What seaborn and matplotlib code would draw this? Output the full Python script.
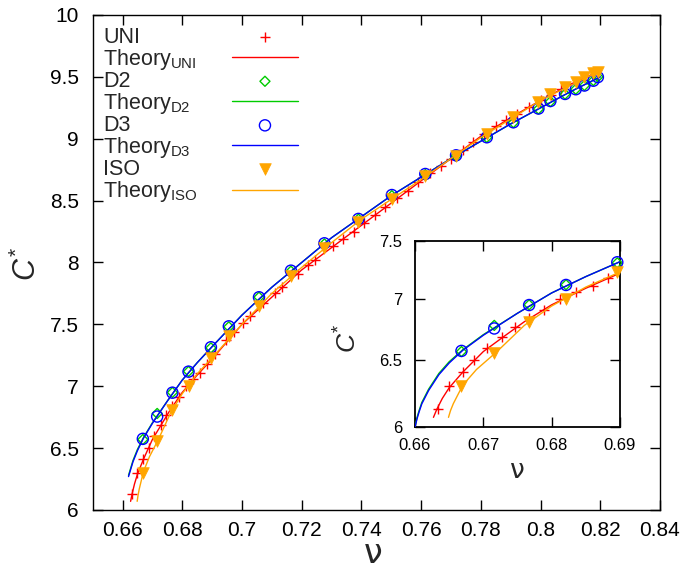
import numpy as np
import pandas as pd
import matplotlib
matplotlib.use("Agg")
import matplotlib.pyplot as plt
import seaborn as sns

# ---------------- data ----------------
nu_uni = [0.6633, 0.6650, 0.6670, 0.6687, 0.6706, 0.6728, 0.6747, 0.6767, 0.6789, 0.6812,
          0.6836, 0.6860, 0.6882, 0.6911, 0.6945, 0.6972, 0.7002, 0.7028, 0.7072, 0.7112,
          0.7135, 0.7186, 0.7222, 0.7246, 0.7306, 0.7339, 0.7375, 0.7410, 0.7445, 0.7480,
          0.7520, 0.7555, 0.7590, 0.7630, 0.7665, 0.7700, 0.7740, 0.7775, 0.7810, 0.7850,
          0.7885, 0.7920, 0.7960, 0.8000, 0.8035, 0.8070]
c_uni = [6.13, 6.30, 6.41, 6.50, 6.60, 6.69, 6.77, 6.84, 6.91, 7.00,
         7.06, 7.11, 7.18, 7.26, 7.37, 7.44, 7.51, 7.57, 7.67, 7.75,
         7.80, 7.91, 7.98, 8.02, 8.13, 8.19, 8.25, 8.32, 8.38, 8.45,
         8.52, 8.58, 8.65, 8.72, 8.78, 8.84, 8.91, 8.97, 9.04, 9.10,
         9.15, 9.20, 9.26, 9.31, 9.35, 9.40]

nu_sim = [0.6668, 0.6716, 0.6767, 0.6821, 0.6896, 0.6956, 0.7057, 0.7164, 0.7276, 0.7390,
          0.7502, 0.7614, 0.7717, 0.7820, 0.7909, 0.7993, 0.8033, 0.8082, 0.8118, 0.8147,
          0.8177, 0.8192]
c_d2 = [6.57, 6.78, 6.95, 7.12, 7.31, 7.48, 7.72, 7.93, 8.15, 8.35,
        8.54, 8.71, 8.86, 9.01, 9.13, 9.24, 9.30, 9.36, 9.40, 9.43,
        9.47, 9.50]
c_d3 = [6.575, 6.755, 6.948, 7.118, 7.315, 7.484, 7.719, 7.934, 8.155, 8.352,
        8.545, 8.715, 8.866, 9.012, 9.133, 9.244, 9.305, 9.362, 9.400, 9.430,
        9.469, 9.498]
c_iso = [6.30, 6.555, 6.811, 6.998, 7.226, 7.408, 7.646, 7.893, 8.115, 8.33,
         8.51, 8.70, 8.86, 9.035, 9.173, 9.295, 9.362, 9.416, 9.461, 9.497,
         9.529, 9.542]

th_uni_nu = [0.6627, 0.6632, 0.6640, 0.6650, 0.6670, 0.6700, 0.6730, 0.6760, 0.6800, 0.6850,
             0.6900, 0.7000, 0.7100, 0.7200, 0.7300, 0.7400, 0.7500, 0.7600, 0.7700, 0.7800,
             0.7900, 0.8000, 0.8100, 0.8200]
th_uni_c = [6.07, 6.13, 6.21, 6.29, 6.41, 6.57, 6.69, 6.81, 6.95, 7.09,
            7.22, 7.50, 7.72, 7.94, 8.12, 8.30, 8.48, 8.66, 8.84, 9.02,
            9.17, 9.31, 9.44, 9.55]

th_d_nu = [0.6600, 0.6603, 0.6606, 0.6610, 0.6620, 0.6635, 0.6650, 0.6670, 0.6700, 0.6750,
           0.6800, 0.6850, 0.6900, 0.7000, 0.7100, 0.7200, 0.7300, 0.7400, 0.7500, 0.7600,
           0.7700, 0.7800, 0.7900, 0.8000, 0.8100, 0.8200]
th_d2_c = [6.00, 6.07, 6.12, 6.18, 6.28, 6.40, 6.49, 6.585, 6.705, 6.88,
           7.05, 7.19, 7.32, 7.575, 7.80, 8.00, 8.20, 8.37, 8.54, 8.69,
           8.84, 8.98, 9.12, 9.25, 9.38, 9.50]
th_d3_c = [6.00, 6.06, 6.11, 6.17, 6.27, 6.39, 6.48, 6.58, 6.70, 6.88,
           7.05, 7.19, 7.32, 7.575, 7.80, 8.00, 8.20, 8.37, 8.54, 8.69,
           8.84, 8.98, 9.12, 9.25, 9.38, 9.50]

th_iso_nu = [0.6649, 0.6652, 0.6656, 0.6662, 0.6670, 0.6690, 0.6720, 0.6760, 0.6800, 0.6850,
             0.6900, 0.7000, 0.7100, 0.7200, 0.7300, 0.7400, 0.7500, 0.7600, 0.7700, 0.7800,
             0.7900, 0.8000, 0.8100, 0.8200]
th_iso_c = [6.07, 6.12, 6.17, 6.23, 6.31, 6.43, 6.57, 6.78, 6.94, 7.10,
            7.23, 7.50, 7.75, 7.96, 8.16, 8.35, 8.51, 8.67, 8.84, 9.01,
            9.16, 9.31, 9.43, 9.55]

main_xticks = [0.66, 0.68, 0.70, 0.72, 0.74, 0.76, 0.78, 0.80, 0.82, 0.84]
main_xticklabels = ["0.66", "0.68", "0.7", "0.72", "0.74", "0.76", "0.78", "0.8", "0.82", "0.84"]
main_yticks = [6, 6.5, 7, 7.5, 8, 8.5, 9, 9.5, 10]
main_yticklabels = ["6", "6.5", "7", "7.5", "8", "8.5", "9", "9.5", "10"]
ins_xticks = [0.66, 0.67, 0.68, 0.69]
ins_xticklabels = ["0.66", "0.67", "0.68", "0.69"]
ins_yticks = [6, 6.5, 7, 7.5]
ins_yticklabels = ["6", "6.5", "7", "7.5"]

labels = ["UNI", r"Theory$_{\mathrm{UNI}}$", "D2", r"Theory$_{\mathrm{D2}}$",
          "D3", r"Theory$_{\mathrm{D3}}$", "ISO", r"Theory$_{\mathrm{ISO}}$"]

# ---------------- style ----------------
sns.set_theme(style="ticks")
plt.rcParams["font.family"] = ["Liberation Sans", "DejaVu Sans"]
plt.rcParams["mathtext.fontset"] = "custom"
plt.rcParams["mathtext.rm"] = "Liberation Sans"
plt.rcParams["mathtext.it"] = "Liberation Sans:italic"
plt.rcParams["mathtext.bf"] = "Liberation Sans:bold"
plt.rcParams["axes.linewidth"] = 1.0
plt.rcParams["axes.edgecolor"] = "black"

RED = "#ff0000"
GREEN = "#00cc00"
BLUE = "#0000ff"
ORANGE = "#ffa500"

uni = pd.DataFrame({"nu": nu_uni, "C": c_uni})
sim = pd.DataFrame({"nu": nu_sim, "D2": c_d2, "D3": c_d3, "ISO": c_iso})
th_uni = pd.DataFrame({"nu": th_uni_nu, "C": th_uni_c})
th_d = pd.DataFrame({"nu": th_d_nu, "D2": th_d2_c, "D3": th_d3_c})
th_iso = pd.DataFrame({"nu": th_iso_nu, "C": th_iso_c})

fig = plt.figure(figsize=(6.82, 5.72), dpi=100)
ax = fig.add_axes([0.1359, 0.1084, 0.8318, 0.8654])
axi = fig.add_axes([0.6085, 0.2535, 0.3006, 0.3243])


def draw(a, inset):
    lo = 0.6612
    hi = 0.6905 if inset else 1.0
    u = uni[uni.nu <= hi]
    s = sim[sim.nu <= hi]
    tu = th_uni if inset else th_uni[th_uni.nu >= lo]
    td = th_d if inset else th_d[th_d.nu >= lo]
    ti = th_iso if inset else th_iso[th_iso.nu >= lo]
    clip = not inset
    h = []
    sns.scatterplot(x=u.nu, y=u.C, ax=a, marker="+", s=55, color=RED,
                    linewidth=1.0, clip_on=clip, zorder=3)
    h.append(a.collections[-1])
    sns.lineplot(x=tu.nu, y=tu.C, ax=a, color=RED, lw=1.0, sort=False,
                 estimator=None, zorder=3)
    h.append(a.lines[-1])
    sns.scatterplot(x=s.nu, y=s.D2, ax=a, marker="D", s=26, facecolor="none",
                    edgecolor=GREEN, linewidth=1.0, clip_on=clip, zorder=3)
    h.append(a.collections[-1])
    sns.lineplot(x=td.nu, y=td.D2, ax=a, color=GREEN, lw=1.0, sort=False,
                 estimator=None, zorder=3)
    h.append(a.lines[-1])
    sns.scatterplot(x=s.nu, y=s.D3, ax=a, marker="o", s=64, facecolor="none",
                    edgecolor=BLUE, linewidth=1.0, clip_on=clip, zorder=3)
    h.append(a.collections[-1])
    sns.lineplot(x=td.nu, y=td.D3, ax=a, color=BLUE, lw=1.0, sort=False,
                 estimator=None, zorder=3)
    h.append(a.lines[-1])
    sns.scatterplot(x=s.nu, y=s.ISO, ax=a, marker="v", s=70, color=ORANGE,
                    edgecolor=ORANGE, linewidth=0.5, clip_on=clip, zorder=3)
    h.append(a.collections[-1])
    sns.lineplot(x=ti.nu, y=ti.C, ax=a, color=ORANGE, lw=1.0, sort=False,
                 estimator=None, zorder=3)
    h.append(a.lines[-1])
    return h


handles = draw(ax, False)
draw(axi, True)

# ---------------- main axes ----------------
ax.set_xlim(0.65, 0.84)
ax.set_ylim(6, 10)
ax.set_xticks(main_xticks)
ax.set_xticklabels(main_xticklabels)
ax.set_yticks(main_yticks)
ax.set_yticklabels(main_yticklabels)
ax.tick_params(direction="in", top=True, right=True, length=7, width=1.0,
               labelsize=15, color="black", labelcolor="black")
ax.tick_params(axis="x", pad=8)
ax.tick_params(axis="y", pad=10)
ax.set_xlabel("ν", fontsize=24, family=["DejaVu Sans"])
ax.set_ylabel(r"$C^{*}$", fontsize=22)
ax.xaxis.set_label_coords(0.494, -0.055)
ax.yaxis.set_label_coords(-0.087, 0.497)
for sp in ax.spines.values():
    sp.set_visible(True)
    sp.set_color("black")

leg = ax.legend(handles, labels, loc="upper left", bbox_to_anchor=(0.018, 0.976),
                frameon=False, markerfirst=False, handlelength=3.06, handletextpad=0.5,
                labelspacing=-0.045, borderaxespad=0, borderpad=0, fontsize=15.5)
for col in leg._legend_handle_box.get_children():
    for row in col.get_children():
        row.mode = "expand"
        row.width = 195

# ---------------- inset ----------------
axi.set_yscale("log")
axi.set_xlim(0.66, 0.69)
axi.set_ylim(6, 7.5)
axi.set_xticks(ins_xticks)
axi.set_xticklabels(ins_xticklabels)
axi.set_yticks(ins_yticks)
axi.set_yticklabels(ins_yticklabels)
axi.yaxis.set_minor_locator(matplotlib.ticker.NullLocator())
axi.tick_params(direction="in", top=True, right=True, length=7, width=1.0,
                labelsize=12, color="black", labelcolor="black")
axi.tick_params(axis="x", pad=8)
axi.tick_params(axis="y", pad=9)
axi.set_xlabel("ν", fontsize=19, family=["DejaVu Sans"])
axi.set_ylabel(r"$C^{*}$", fontsize=19)
axi.xaxis.set_label_coords(0.4976, -0.165)
axi.yaxis.set_label_coords(-0.26, 0.48)
for sp in axi.spines.values():
    sp.set_visible(True)
    sp.set_color("black")
    sp.set_linewidth(1.3)

fig.savefig("out.png", dpi=100)
